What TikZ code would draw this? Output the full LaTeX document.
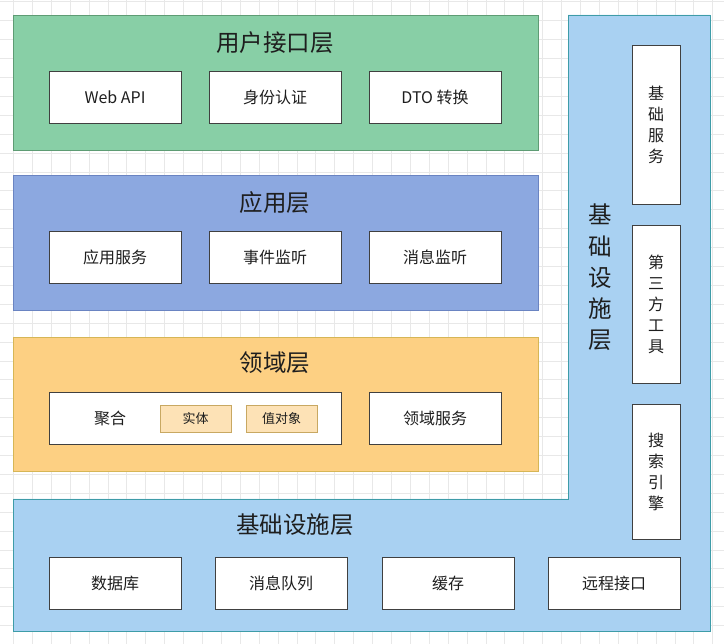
\documentclass[tikz,border=0pt]{standalone}
\usepackage{fontspec}
\setmainfont{Noto Sans CJK SC}
\definecolor{gridc}{HTML}{E8E8E8}
\definecolor{gfill}{HTML}{88CFA6}
\definecolor{gborder}{HTML}{5E9C74}
\definecolor{bfill}{HTML}{8CA8E0}
\definecolor{bborder}{HTML}{6A84C2}
\definecolor{ofill}{HTML}{FDD083}
\definecolor{oborder}{HTML}{D6B656}
\definecolor{ifill}{HTML}{A9D1F2}
\definecolor{iborder}{HTML}{3E9CA8}
\definecolor{sfill}{HTML}{FDE2B6}
\definecolor{sborder}{HTML}{C8A862}
\definecolor{txt}{HTML}{1E1E1E}
\begin{document}
\begin{tikzpicture}[x=1pt,y=-1pt,
  layer/.style={line width=0.8pt, inner sep=0pt, anchor=north west},
  ltitle/.style={font=\fontsize{23.5}{28}\selectfont, text=txt, inner sep=0pt},
  box/.style={draw=black!75, fill=white, line width=0.8pt, minimum width=132pt, minimum height=52pt, inner sep=0pt, font=\fontsize{16}{19}\selectfont, text=txt},
  subbox/.style={draw=sborder, fill=sfill, line width=0.8pt, minimum width=71pt, minimum height=27pt, inner sep=0pt, font=\fontsize{13}{15}\selectfont, text=txt},
  vbox/.style={draw=black!75, fill=white, line width=0.8pt, minimum width=48pt, inner sep=0pt, align=center, font=\fontsize{16}{21}\selectfont, text=txt}]
\useasboundingbox (0,0) rectangle (724,644);
\fill[white] (0,0) rectangle (724,644);
% grid
\begin{scope}
\clip (0,0) rectangle (724,644);
\foreach \i in {0,...,38} {
  \draw[gridc, line width=0.5pt] ({13.3+18.9*\i},0) -- ({13.3+18.9*\i},644);
}
\foreach \j in {0,...,34} {
  \draw[gridc, line width=0.5pt] (0,{1.7+18.9*\j}) -- (724,{1.7+18.9*\j});
}
\end{scope}
% layers
\node[layer, draw=gborder, fill=gfill, minimum width=525pt, minimum height=135pt] (ui) at (13,15) {};
\node[layer, draw=bborder, fill=bfill, minimum width=525pt, minimum height=135pt] (app) at (13,175) {};
\node[layer, draw=oborder, fill=ofill, minimum width=525pt, minimum height=134pt] (dom) at (13,337) {};
\draw[fill=ifill, draw=iborder, line width=0.8pt] (13,499) -- (568,499) -- (568,15) -- (710,15) -- (710,631) -- (13,631) -- cycle;
% titles
\node[ltitle] (uit) at (275,43) {用户接口层};
\node[ltitle] (appt) at (275,203) {应用层};
\node[ltitle] (domt) at (275,363) {领域层};
\node[ltitle] (inft) at (295,525) {基础设施层};
\node[ltitle, align=center, font=\fontsize{23.5}{31.25}\selectfont] (infv) at (600,277.5) {基\\础\\设\\施\\层};
% UI boxes
\node[box] (webapi) at (115,97) {Web API};
\node[box] (auth) at (275,97) {身份认证};
\node[box] (dto) at (435,97) {DTO 转换};
% App boxes
\node[box] (appsvc) at (115,257) {应用服务};
\node[box] (evt) at (275,257) {事件监听};
\node[box] (msg) at (435,257) {消息监听};
% Domain
\node[box, minimum width=292pt] (agg) at (195,418) {};
\node[font=\fontsize{16}{19}\selectfont, text=txt, inner sep=0pt] (aggt) at (110,418) {聚合};
\node[subbox] (entity) at (195.5,418.5) {实体};
\node[subbox] (vo) at (281.5,418.5) {值对象};
\node[box] (domsvc) at (435,418) {领域服务};
% Infra bottom
\node[box] (db) at (115,583) {数据库};
\node[box] (mq) at (281,583) {消息队列};
\node[box] (cache) at (448,583) {缓存};
\node[box] (rpc) at (614,583) {远程接口};
% Infra right
\node[vbox, minimum height=159pt] (basesvc) at (656,124.5) {基\\础\\服\\务};
\node[vbox, minimum height=158pt] (tools) at (656,304) {第\\三\\方\\工\\具};
\node[vbox, minimum height=135pt] (search) at (656,471.5) {搜\\索\\引\\擎};
\end{tikzpicture}
\end{document}
